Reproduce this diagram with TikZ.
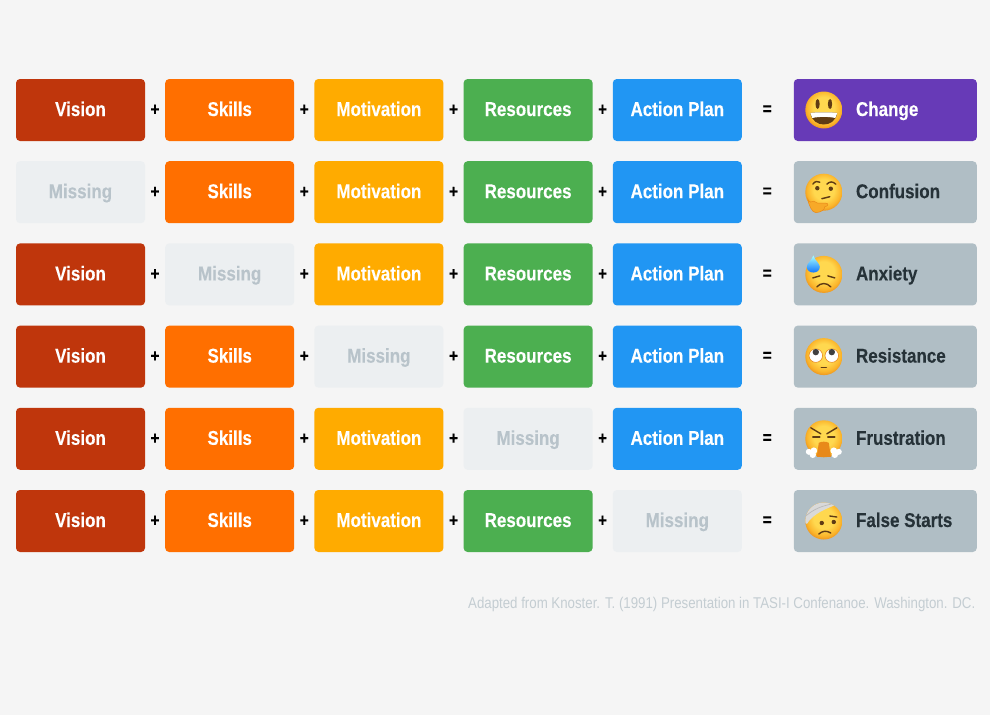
\documentclass[tikz,border=0pt]{standalone}
\usepackage{fontspec}
\setmainfont[FakeStretch=0.85, BoldFeatures={FakeBold=0.2}]{Liberation Sans}
\usetikzlibrary{positioning}
\definecolor{paper}{HTML}{F5F5F5}
\definecolor{visionred}{HTML}{BF360C}
\definecolor{skillorange}{HTML}{FF6F00}
\definecolor{motivamber}{HTML}{FFAB00}
\definecolor{resgreen}{HTML}{4CAF50}
\definecolor{planblue}{HTML}{2196F3}
\definecolor{changepurple}{HTML}{673AB7}
\definecolor{outcomegrey}{HTML}{B0BEC5}
\definecolor{missfill}{HTML}{ECEFF1}
\definecolor{misstext}{HTML}{B8C3CA}
\definecolor{darktext}{HTML}{263238}
\definecolor{notetext}{HTML}{C4CDD2}
\definecolor{facetop}{HTML}{FFD84F}
\definecolor{facemid}{HTML}{FBB52B}
\definecolor{faceedge}{HTML}{E8891A}
\definecolor{facebrown}{HTML}{5F3B14}
\definecolor{handorange}{HTML}{F7A928}
\pgfdeclareradialshading{emojiface}{\pgfpoint{0bp}{5bp}}{
  color(0bp)=(facetop); color(14bp)=(facetop); color(23bp)=(facemid);
  color(29bp)=(faceedge); color(50bp)=(faceedge)}
\tikzset{
  factor/.style={minimum width=129pt, minimum height=62pt, inner sep=0pt,
    outer sep=0pt, rounded corners=4pt, font=\fontsize{20}{20}\selectfont\bfseries,
    text=white, text height=14pt, text depth=2pt}, % the coloured boxes
  vision/.style={factor, fill=visionred},
  skills/.style={factor, fill=skillorange},
  motivation/.style={factor, fill=motivamber},
  resources/.style={factor, fill=resgreen},
  plan/.style={factor, fill=planblue},
  missing/.style={factor, fill=missfill, text=misstext},
  change/.style={factor, minimum width=183pt, fill=changepurple},
  outcome/.style={factor, minimum width=183pt, fill=outcomegrey},
  changetext/.style={font=\fontsize{20}{20}\selectfont\bfseries, text=white,
    inner sep=0pt, text height=14pt, text depth=2pt},
  outcometext/.style={changetext, text=darktext},
  sign/.style={font=\fontsize{18}{18}\selectfont\bfseries, text=black, inner sep=0pt},
  note/.style={font=\fontsize{15.6}{15}\selectfont, text=notetext, inner sep=0pt,
    text height=11pt, text depth=2pt},
  facefeature/.style={draw=facebrown, line width=1.4pt, line cap=round},
  pics/faceball/.style={code={
    \shade[shading=emojiface] (0,0) circle (18.5);
  }},
  pics/smiley/.style={code={
    \pic {faceball};
    \fill[facebrown] (-6.2,6) ellipse (2.1 and 5) (6.2,6) ellipse (2.1 and 5);
    \fill[facebrown] (-13.5,-3) .. controls (-8,-2) and (8,-2) .. (13.5,-3)
      .. controls (12,-11) and (6,-14.5) .. (0,-14.5)
      .. controls (-6,-14.5) and (-12,-11) .. cycle;
    \fill[white] (-13.5,-3) .. controls (-8,-2) and (8,-2) .. (13.5,-3)
      .. controls (13,-6) .. (11.5,-8)
      .. controls (5,-6.5) and (-5,-6.5) .. (-11.5,-8)
      .. controls (-13,-6) .. cycle;
  }},
  pics/thinking/.style={code={
    \pic {faceball};
    \draw[facefeature] (-11,8) .. controls (-9,11) and (-6,11.5) .. (-4,10);
    \draw[facefeature] (3,8) .. controls (6,11) and (9,11) .. (12,8);
    \fill[facebrown] (-6.5,4) circle (2.2) (7,3.5) circle (2.2);
    \draw[facefeature] (-2,-6.5) -- (6,-4.5);
    \fill[handorange, draw=faceedge, line width=0.5pt]
      (-16,-7) .. controls (-15,-10) and (-12,-11) .. (-10,-9)
      -- (-6,-11) -- (2,-11) .. controls (5,-11) and (5,-14) .. (1,-14.5)
      .. controls (1,-17) and (-2,-20) .. (-8,-20.5)
      .. controls (-12,-20) and (-15,-13) .. cycle;
  }},
  pics/anxious/.style={code={
    \pic {faceball};
    \draw[facefeature] (-11,-3.5) -- (-4,-1.5);
    \draw[facefeature] (4,-1.5) -- (11,-3.5);
    \draw[facefeature] (-7,-12.5) .. controls (-3,-8) and (3,-8) .. (7,-12.5);
    \shade[top color=cyan!35, bottom color=blue!60!cyan]
      (-10.5,19) .. controls (-9,14) and (-4,11) .. (-4,7.5)
      .. controls (-4,0) and (-17,0) .. (-17,7.5)
      .. controls (-17,11) and (-12,14) .. cycle;
  }},
  pics/rolling/.style={code={
    \pic {faceball};
    \fill[white, draw=faceedge, line width=0.6pt] (-8,1) circle (6.8) (8,1) circle (6.8);
    \fill[black!75] (-8,4.5) circle (3.2) (8,4.5) circle (3.2);
    \draw[facefeature] (-2.5,-11) -- (2.5,-11);
  }},
  pics/steaming/.style={code={
    \pic {faceball};
    \draw[facefeature] (-13,11) -- (-3,5);
    \draw[facefeature] (13,11) -- (3,5);
    \draw[facefeature] (-11,2) -- (-4,2);
    \draw[facefeature] (4,2) -- (11,2);
    \fill[faceedge] (-5,-4) .. controls (-2,-2.5) and (2,-2.5) .. (5,-4)
      -- (7,-18) -- (-7,-18) -- cycle;
    \fill[white] (-15,-13) circle (3) (-10,-12) circle (3.4) (-11,-16) circle (3.2);
    \fill[white] (15,-13) circle (3) (10,-12) circle (3.4) (11,-16) circle (3.2);
  }},
  pics/bandaged/.style={code={
    \pic {faceball};
    \begin{scope}
      \clip (0,0) circle (18.5);
      \fill[gray!30] (-20,0) -- (-20,20) -- (2,20) -- (14,17)
        .. controls (2,12) and (-10,8) .. (-17,-3) -- cycle;
      \draw[gray!55, line width=0.7pt] (-18,5) .. controls (-10,12) and (-2,15) .. (8,17);
    \end{scope}
    \fill[facebrown] (-2,-2) circle (2.2) (10,-1) circle (2.2);
    \draw[facefeature] (6,5) -- (13,4);
    \draw[facefeature] (-5,-13) .. controls (-1,-9.5) and (3,-9.5) .. (7,-12);
  }},
}

\begin{document}
\begin{tikzpicture}[x=1pt,y=1pt]
    \path[use as bounding box, fill=paper] (0,0) rectangle (990,-715);

    \foreach \r/\ry/\facepic/\resultstyle/\resulttext/\labelstyle in {
        0/110/smiley/change/Change/changetext,
        1/192.2/thinking/outcome/Confusion/outcometext,
        2/274.4/anxious/outcome/Anxiety/outcometext,
        3/356.6/rolling/outcome/Resistance/outcometext,
        4/438.8/steaming/outcome/Frustration/outcometext,
        5/521/bandaged/outcome/False Starts/outcometext} {
      \coordinate (start\r) at (16,-\ry);
      \foreach \c/\p/\boxstyle/\boxtext in {
          1/0/vision/Vision, 2/1/skills/Skills, 3/2/motivation/Motivation,
          4/3/resources/Resources, 5/4/plan/Action Plan} {
        \ifnum\r=\c \def\usestyle{missing}\def\usetext{Missing}
        \else \let\usestyle\boxstyle \let\usetext\boxtext \fi
        \ifnum\c=1
          \node[\usestyle, anchor=west] (box\r-\c) at (start\r) {\usetext};
        \else
          \node[\usestyle, right=20.2pt of box\r-\p] (box\r-\c) {\usetext};
          \node[sign, right=10pt of box\r-\p, anchor=center] (plus\r-\c) {+};
        \fi
      }
      \node[\resultstyle, right=52pt of box\r-5] (result\r) {};
      \node[sign, right=25.5pt of box\r-5, anchor=center] (equals\r) {=};
      \coordinate[right=30pt of result\r.west] (face\r);
      \pic at (face\r) {\facepic};
      \node[\labelstyle, right=62pt of result\r.west, anchor=west] (label\r) {\resulttext};
    }

    \node[note, anchor=east] (source) at (975.5,-604) {Adapted from Knoster. T. (1991) Presentation in TASI-I Confenanoe. Washington. DC.};
\end{tikzpicture}
\end{document}
